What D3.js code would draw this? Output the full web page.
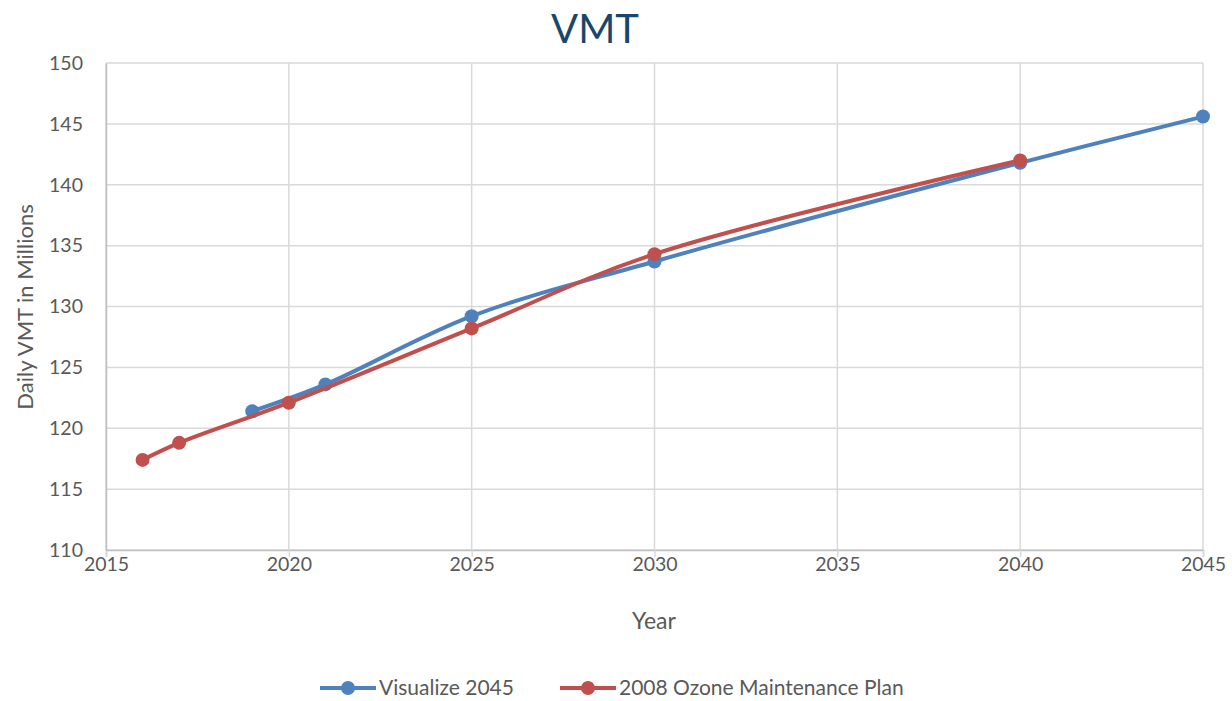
<!DOCTYPE html>
<html>
<head>
<meta charset="utf-8">
<script src="https://cdn.jsdelivr.net/npm/d3@7"></script>
<style>
  body { margin: 0; background: #fff; }
  svg text { font-family: Lato, "Open Sans", sans-serif; }
</style>
</head>
<body>
<svg id="chart"></svg>
<script>
// data
var visYears = [2019, 2021, 2025, 2030, 2040, 2045];
var visValues = [121.4, 123.6, 129.2, 133.7, 141.8, 145.6];
var ozoneYears = [2016, 2017, 2020, 2025, 2030, 2040];
var ozoneValues = [117.4, 118.8, 122.1, 128.2, 134.3, 142.0];
var xTicks = [2015, 2020, 2025, 2030, 2035, 2040, 2045];
var yTicks = [110, 115, 120, 125, 130, 135, 140, 145, 150];
var seriesNames = ["Visualize 2045", "2008 Ozone Maintenance Plan"];
var seriesColors = ["#4f81bd", "#c0504d"];

var svgWidth = 1232, svgHeight = 701;
var svg = d3.select("#chart").attr("width", svgWidth).attr("height", svgHeight);

var margin = {top: 63, right: 29, bottom: 151, left: 106};
var plotWidth = svgWidth - margin.left - margin.right;
var plotHeight = svgHeight - margin.top - margin.bottom;

var plot = svg.append("g").attr("transform", "translate(" + margin.left + "," + margin.top + ")");

var xScale = d3.scaleLinear().domain([2015, 2045]).range([0, plotWidth]);
var yScale = d3.scaleLinear().domain([110, 150]).range([plotHeight, 0]);

// gridlines
plot.append("g").selectAll("line.h").data(yTicks).enter().append("line")
  .attr("x1", 0).attr("x2", plotWidth)
  .attr("y1", d => yScale(d)).attr("y2", d => yScale(d))
  .attr("stroke", "#d9d9d9").attr("stroke-width", 1.5);
plot.append("g").selectAll("line.v").data(xTicks).enter().append("line")
  .attr("y1", 0).attr("y2", plotHeight)
  .attr("x1", d => xScale(d)).attr("x2", d => xScale(d))
  .attr("stroke", "#d9d9d9").attr("stroke-width", 1.5);

// axes
var xAxis = d3.axisBottom(xScale).tickValues(xTicks).tickFormat(d3.format("d")).tickSize(7);
var yAxis = d3.axisLeft(yScale).tickValues(yTicks).tickSize(0);

var xGroup = plot.append("g").attr("transform", "translate(0," + plotHeight + ")").call(xAxis);
var yGroup = plot.append("g").call(yAxis);
[xGroup, yGroup].forEach(function(g) {
  g.select(".domain").attr("stroke", "#bfbfbf").attr("stroke-width", 1.5);
  g.selectAll(".tick line").attr("stroke", "#d9d9d9").attr("stroke-width", 1.5);
  g.selectAll(".tick text").attr("fill", "#595959").style("font-size", "19.5px");
});
xGroup.selectAll(".tick text").attr("dy", "0.9em").attr("y", 3);
yGroup.selectAll(".tick text").attr("x", -23);

// title & axis labels
svg.append("text").attr("x", 595).attr("y", 43)
  .attr("text-anchor", "middle").attr("fill", "#17476b")
  .style("font-size", "40px").text("VMT");
svg.append("text").attr("x", 654).attr("y", 629)
  .attr("text-anchor", "middle").attr("fill", "#595959")
  .style("font-size", "23px").text("Year");
svg.append("text").attr("transform", "translate(33,307) rotate(-90)")
  .attr("text-anchor", "middle").attr("fill", "#595959")
  .style("font-size", "22px").text("Daily VMT in Millions");

// lines
var line = d3.line()
  .x(d => xScale(d[0])).y(d => yScale(d[1]))
  .curve(d3.curveCatmullRom.alpha(0.5));

var series = [
  d3.zip(visYears, visValues),
  d3.zip(ozoneYears, ozoneValues)
];

series.forEach(function(data, i) {
  plot.append("path").datum(data)
    .attr("d", line).attr("fill", "none")
    .attr("stroke", seriesColors[i]).attr("stroke-width", 4)
    .attr("stroke-linecap", "round");
  plot.append("g").selectAll("circle").data(data).enter().append("circle")
    .attr("cx", d => xScale(d[0])).attr("cy", d => yScale(d[1]))
    .attr("r", 7).attr("fill", seriesColors[i]);
});

// legend
var legendX = [320, 560];
var legend = svg.append("g");
seriesNames.forEach(function(name, i) {
  var g = legend.append("g").attr("transform", "translate(" + legendX[i] + ",688)");
  g.append("line").attr("x1", 0).attr("x2", 56).attr("y1", 0).attr("y2", 0)
    .attr("stroke", seriesColors[i]).attr("stroke-width", 4);
  g.append("circle").attr("cx", 28).attr("cy", 0).attr("r", 7).attr("fill", seriesColors[i]);
  g.append("text").attr("x", 59).attr("y", 0).attr("dy", "0.35em")
    .attr("fill", "#595959").style("font-size", "21px").text(name);
});
</script>
</body>
</html>
